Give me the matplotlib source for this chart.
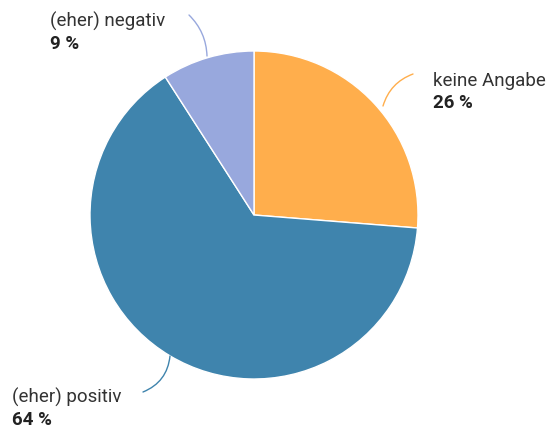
import matplotlib.pyplot as plt

plt.rcParams['font.family'] = ['Roboto', 'DejaVu Sans']

labels = ['keine Angabe', '(eher) positiv', '(eher) negativ']
values = [26, 64, 9]
pct_labels = ['26 %', '64 %', '9 %']
colors = ['#FFAE4C', '#3F84AD', '#98A8DD']

W, H = 551, 428
fig = plt.figure(figsize=(W / 100, H / 100), dpi=100)
ax = fig.add_axes([0, 0, 1, 1])

ax.pie(values, colors=colors, startangle=90, counterclock=False,
       center=(254, H - 215), radius=164, frame=True,
       wedgeprops=dict(edgecolor='white', linewidth=1))
ax.set_xlim(0, W)
ax.set_ylim(0, H)
ax.set_aspect('equal')
ax.axis('off')

# label baseline positions and connector lines, in pixels from top
lab_pos = [(433, 86), (12, 403), (50, 27)]
lines = [((413, 74), (383, 106), 0.25),
         ((143, 392), (170, 356), 0.3),
         ((189, 15), (207, 56), -0.2)]

for lab, pct, col, (x, y), (p0, p1, rad) in zip(labels, pct_labels, colors, lab_pos, lines):
    ax.text(x, H - y, lab, fontsize=13.5, color='#333333', ha='left', va='baseline')
    ax.text(x, H - y - 22, pct, fontsize=13.5, fontweight='bold', color='#222222',
            ha='left', va='baseline')
    ax.annotate('', xy=(p1[0], H - p1[1]), xytext=(p0[0], H - p0[1]),
                arrowprops=dict(arrowstyle='-', color=col, lw=1,
                                connectionstyle='arc3,rad=%s' % rad,
                                shrinkA=0, shrinkB=0))

fig.savefig('out.png', dpi=100)
